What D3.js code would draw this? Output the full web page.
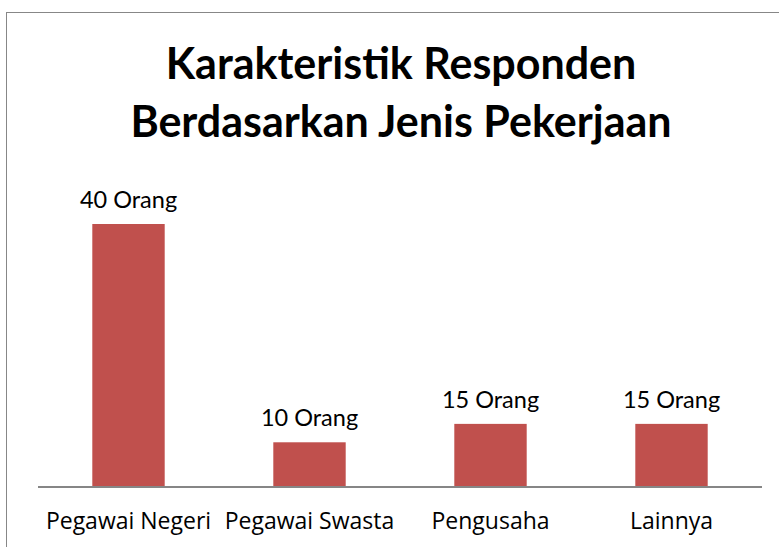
<!DOCTYPE html>
<html>
<head>
  <title>Karakteristik Responden</title>
  <script src="https://d3js.org/d3.v7.min.js"></script>
  <style>
    body { margin: 0; padding: 0; background: #fff; }
    .title { font-family: Lato, "Open Sans", sans-serif; font-size: 43px; font-weight: bold; }
    .valueLabel { font-family: Lato, "Open Sans", sans-serif; font-size: 23.5px; }
    .catLabel { font-family: "Open Sans", Lato, sans-serif; font-size: 23px; }
  </style>
</head>
<body>
  <div id="chart"></div>
  <script>

    // categories, bar heights (as drawn) and the labels printed over them
    let categories = ["Pegawai Negeri", "Pegawai Swasta", "Pengusaha", "Lainnya"];
    let values = [40, 6.8, 9.6, 9.6];
    let valueLabels = ["40 Orang", "10 Orang", "15 Orang", "15 Orang"];
    let titleLines = ["Karakteristik Responden", "Berdasarkan Jenis Pekerjaan"];

    let width = 779;
    let height = 547;
    let margin = {left: 38, right: 17, top: 224, bottom: 60};

    let svg = d3.select("#chart")
      .append("svg")
      .attr("width", width)
      .attr("height", height);

    // chart frame (only top and left edges visible)
    svg.append("rect")
      .attr("x", 6.5)
      .attr("y", 12.5)
      .attr("width", width + 20)
      .attr("height", height + 20)
      .attr("fill", "none")
      .attr("stroke", "#878787")
      .attr("stroke-width", 1);

    let xScale = d3.scaleBand()
      .domain(categories)
      .range([margin.left, width - margin.right])
      .paddingInner(0.6)
      .paddingOuter(0.3);

    let yScale = d3.scaleLinear()
      .domain([0, 40])
      .range([height - margin.bottom, margin.top]);

    // title
    svg.append("text")
      .attr("class", "title")
      .attr("x", 401)
      .attr("text-anchor", "middle")
      .selectAll("tspan")
      .data(titleLines)
      .enter()
      .append("tspan")
        .attr("x", 401)
        .attr("y", function(d, i) { return 79 + i * 58; })
        .text(function(d) { return d; });

    // bars
    svg.selectAll("rect.bar")
      .data(values)
      .enter()
      .append("rect")
        .attr("class", "bar")
        .attr("x", function(d, i) { return xScale(categories[i]); })
        .attr("y", function(d) { return yScale(d); })
        .attr("width", xScale.bandwidth())
        .attr("height", function(d) { return yScale(0) - yScale(d); })
        .attr("fill", "#C0504D");

    // x axis
    let xAxis = svg.append("g")
      .attr("transform", `translate(0, ${yScale(0)})`)
      .call(d3.axisBottom(xScale).tickSize(0).tickPadding(26));

    xAxis.select(".domain")
      .attr("stroke", "#868686")
      .attr("stroke-width", 2)
      .attr("d", `M${margin.left},0H${width - margin.right}`);

    xAxis.selectAll("text")
      .attr("class", "catLabel")
      .attr("fill", "#000")
      .attr("font-family", null)
      .attr("font-size", null);

    // value labels
    svg.selectAll("text.valueLabel")
      .data(values)
      .enter()
      .append("text")
        .attr("class", "valueLabel")
        .attr("x", function(d, i) { return xScale(categories[i]) + xScale.bandwidth() / 2; })
        .attr("y", function(d) { return yScale(d) - 16; })
        .attr("text-anchor", "middle")
        .text(function(d, i) { return valueLabels[i]; });

  </script>
</body>
</html>
